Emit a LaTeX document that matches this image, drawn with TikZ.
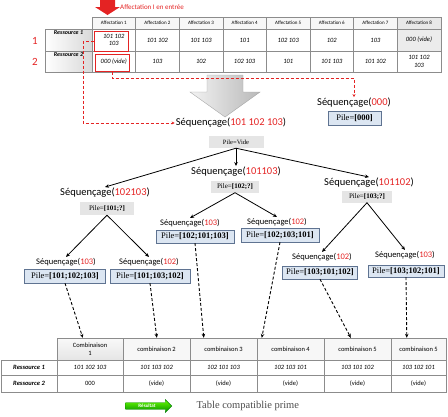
\documentclass[tikz,border=0pt]{standalone}
\usepackage{fontspec}
\setmainfont{Liberation Serif}
\newfontfamily\calib{Carlito}
\usepackage{tikz}
\usetikzlibrary{arrows.meta,positioning,calc,shapes.arrows}
\usepackage{xcolor}
\definecolor{numred}{RGB}{228,35,35}
\definecolor{pilefill}{RGB}{220,230,242}
\definecolor{pileline}{RGB}{95,115,145}
\definecolor{gridline}{RGB}{140,140,140}

\begin{document}
\begin{tikzpicture}[x=1pt, y=-1pt,
  cell/.style={draw=gridline, minimum width=43.6pt, inner sep=0pt, align=center, font=\calib\itshape\fontsize{6.5}{7.5}\selectfont},
  headcell/.style={cell, minimum height=12pt, fill=gray!6, font=\calib\fontsize{5}{6}\selectfont},
  lblcell/.style={draw=gridline, minimum width=47pt, inner sep=0pt, left color=white, right color=gray!30},
  lbltext/.style={anchor=north, inner sep=2pt, font=\calib\bfseries\itshape\fontsize{6}{7}\selectfont},
  bcell/.style={draw=gridline, inner sep=0pt, align=center, font=\calib\fontsize{6.5}{7.5}\selectfont},
  rowno/.style={text=numred, font=\calib\fontsize{11}{12}\selectfont},
  redsel/.style={draw=numred, line width=1pt, inner sep=0pt},
  seq/.style={inner sep=1pt, font=\calib\fontsize{10.5}{12}\selectfont},
  seqsmall/.style={inner sep=1pt, font=\calib\fontsize{8.5}{10}\selectfont},
  pilegray/.style={fill=gray!20, inner sep=0pt, minimum height=12pt, font=\fontsize{7}{8}\selectfont},
  leaf/.style={draw=pileline, fill=pilefill, inner sep=0pt, minimum height=14pt, font=\fontsize{8.5}{9}\selectfont},
  flow/.style={-{Stealth[length=4pt,width=3.5pt]}, line width=0.8pt},
  dashflow/.style={-{Stealth[length=4pt,width=3.5pt]}, line width=0.9pt, dash pattern=on 3pt off 2pt},
  reddash/.style={-{Stealth[length=3pt,width=3pt]}, numred, line width=0.6pt, dash pattern=on 3pt off 2pt}
]
\useasboundingbox (0,0) rectangle (448,416);

% input marker
\fill[numred] (100,0) -- (115,0) -- (115,7) -- (120,7) -- (107.5,15) -- (95,7) -- (100,7) -- cycle;
\node[anchor=west, inner sep=0pt, text=numred, font=\calib\fontsize{7}{8}\selectfont] (entree) at (120,7) {Affectation I en entrée};

% table of affectations
\foreach \i in {1,...,8}
  \node[headcell] (h\i) at ({70.2+43.6*\i},23) {Affectation \i};
\node[headcell, fill=gray!18] (h8b) at (h8) {Affectation 8};
\node[lblcell, minimum height=22pt, label={[lbltext]north:Ressource 1}] (res1) at (68.5,40) {};
\node[lblcell, minimum height=21pt, label={[lbltext]north:Ressource 2}] (res2) at (68.5,61.5) {};
\foreach \t [count=\i] in {{101 102\\103},101 102,101 103,101,102 103,102,103,000 (vide)}
  \node[cell, minimum height=22pt] (a\i) at ({70.2+43.6*\i},40) {\t};
\node[cell, minimum height=22pt, fill=gray!15] (a8b) at (a8) {000 (vide)};
\foreach \t [count=\i] in {000 (vide),103,102,102 103,101,101 103,101 102,{101 102\\103}}
  \node[cell, minimum height=21pt] (b\i) at ({70.2+43.6*\i},61.5) {\t};
\node[rowno] (n1) at (35,41) {1};
\node[rowno] (n2) at (35,62) {2};

% selected inputs
\node[redsel, minimum width=34pt, minimum height=20pt] (sel1) at (111,41) {};
\node[redsel, minimum width=34pt, minimum height=17pt] (sel2) at (112,62.5) {};

% big arrow
\draw[gray!70, left color=gray!10, right color=gray!55] (207,75) -- (243,75) -- (243,92) -- (260,92) -- (225,117) -- (190,92) -- (207,92) -- cycle;

% tree
\node[seq] (s0) at (231,123) {Séquençage(\textcolor{numred}{101 102 103})};
\node[pilegray, minimum width=55pt, minimum height=12pt, font=\fontsize{6.5}{7}\selectfont] (pv) at (236,142) {Pile=Vide};
\node[seq] (s000) at (354,103) {Séquençage(\textcolor{numred}{000})};
\node[leaf, minimum width=53pt] (p000) at (354.5,118) {Pile=\textbf{[000]}};

\node[seq] (s1) at (105,193) {Séquençage(\textcolor{numred}{102103})};
\node[pilegray, minimum width=54pt, minimum height=13pt] (p1) at (107,208.5) {Pile=\textbf{[101;?]}};
\node[seq] (s2) at (236,172) {Séquençage(\textcolor{numred}{101103})};
\node[pilegray, minimum width=48pt, minimum height=12pt] (p2) at (235,186.5) {Pile=\textbf{[102;?]}};
\node[seq] (s3) at (369,183) {Séquençage(\textcolor{numred}{101102})};
\node[pilegray, minimum width=50pt, minimum height=12pt] (p3) at (367,196.5) {Pile=\textbf{[103;?]}};

\node[seqsmall] (s4) at (66,262) {Séquençage(\textcolor{numred}{103})};
\node[leaf, minimum width=81pt] (l1) at (65,276) {Pile=\textbf{[101;102;103]}};
\node[seqsmall] (s5) at (149,262) {Séquençage(\textcolor{numred}{102})};
\node[leaf, minimum width=80pt] (l2) at (150,276) {Pile=\textbf{[101;103;102]}};
\node[seqsmall] (s6) at (190,223) {Séquençage(\textcolor{numred}{103})};
\node[leaf, minimum width=78pt, minimum height=13pt] (l3) at (195,236.5) {Pile=\textbf{[102;101;103]}};
\node[seqsmall] (s7) at (277,222) {Séquençage(\textcolor{numred}{102})};
\node[leaf, minimum width=78pt] (l4) at (280,235) {Pile=\textbf{[102;103;101]}};
\node[seqsmall] (s8) at (322,257) {Séquençage(\textcolor{numred}{102})};
\node[leaf, minimum width=75pt, minimum height=13pt] (l5) at (320,272.5) {Pile=\textbf{[103;101;102]}};
\node[seqsmall] (s9) at (405,255) {Séquençage(\textcolor{numred}{103})};
\node[leaf, minimum width=76pt, minimum height=12pt] (l6) at (406,271) {Pile=\textbf{[103;102;101]}};

\draw[reddash] (sel1.west) -| (83,123) -- (s0.west);
\draw[reddash] (sel2.south) |- (354,78) -- (s000.north);

\draw[flow] (pv.south) -- (s1.north);
\draw[flow] (pv.south) -- (s2.north);
\draw[flow] (pv.south) -- (s3.north);
\draw[flow] (p1.south) -- (s4.north);
\draw[flow] (p1.south) -- (s5.north);
\draw[flow] (p2.south) -- (s6.north);
\draw[flow] (p2.south) -- (s7.north);
\draw[flow] (p3.south) -- (s8.north);
\draw[flow] (p3.south) -- (s9.north);

% table of combinations
\foreach \x/\w/\t [count=\i] in {90/66/{Combinaison\\1},156.5/67/combinaison 2,223.5/67/combinaison 3,290.5/67/combinaison 4,357.5/67/combinaison 5,418.5/55/combinaison 5}
  \node[bcell, minimum width=\w pt, minimum height=22pt, fill=gray!6] (c\i) at (\x,349) {\t};
\node[bcell, minimum width=66pt, minimum height=22pt, top color=gray!5, bottom color=gray!20] (c1b) at (c1) {Combinaison\\1};
\foreach \x/\w/\t [count=\i] in {90/66/101 102 103,156.5/67/101 103 102,223.5/67/102 101 103,290.5/67/102 103 101,357.5/67/103 101 102,418.5/55/103 102 101}
  \node[bcell, minimum width=\w pt, minimum height=15pt, font=\calib\itshape\fontsize{6.5}{7.5}\selectfont] (d\i) at (\x,367.5) {\t};
\foreach \x/\w/\t [count=\i] in {90/66/000,156.5/67/(vide),223.5/67/(vide),290.5/67/(vide),357.5/67/(vide),418.5/55/(vide)}
  \node[bcell, minimum width=\w pt, minimum height=17pt] (e\i) at (\x,383.5) {\t};
\node[bcell, minimum width=56pt, minimum height=15pt, font=\calib\bfseries\itshape\fontsize{6.5}{7.5}\selectfont] (r1) at (29,367.5) {Ressource 1};
\node[bcell, minimum width=56pt, minimum height=17pt, font=\calib\bfseries\itshape\fontsize{6.5}{7.5}\selectfont] (r2) at (29,383.5) {Ressource 2};

\draw[dashflow] (l1.south) -- ([xshift=26pt]c1.north west);
\draw[dashflow] (l2.south) -- ([xshift=34pt]c2.north west);
\draw[dashflow] (l3.south) -- ([xshift=14pt]c3.north west);
\draw[dashflow] (l4.south) -- ([xshift=5pt]c4.north west);
\draw[dashflow] (l5.south) -- ([xshift=27pt]c5.north west);
\draw[dashflow] (l6.south) -- ([xshift=16pt]c6.north west);

% result
\node[single arrow, single arrow head extend=3pt, minimum height=46pt, minimum width=12pt, inner sep=1.5pt,
  top color=green!45!lime, bottom color=green!55!black, draw=green!50!black, text=white,
  font=\calib\bfseries\fontsize{5}{6}\selectfont] (res) at (147,406) {Résultat};
\node[anchor=west, text=gray!60!black, font=\fontsize{10.5}{12}\selectfont] (tcp) at (193,406) {Table compatiblie prime};
\end{tikzpicture}
\end{document}
